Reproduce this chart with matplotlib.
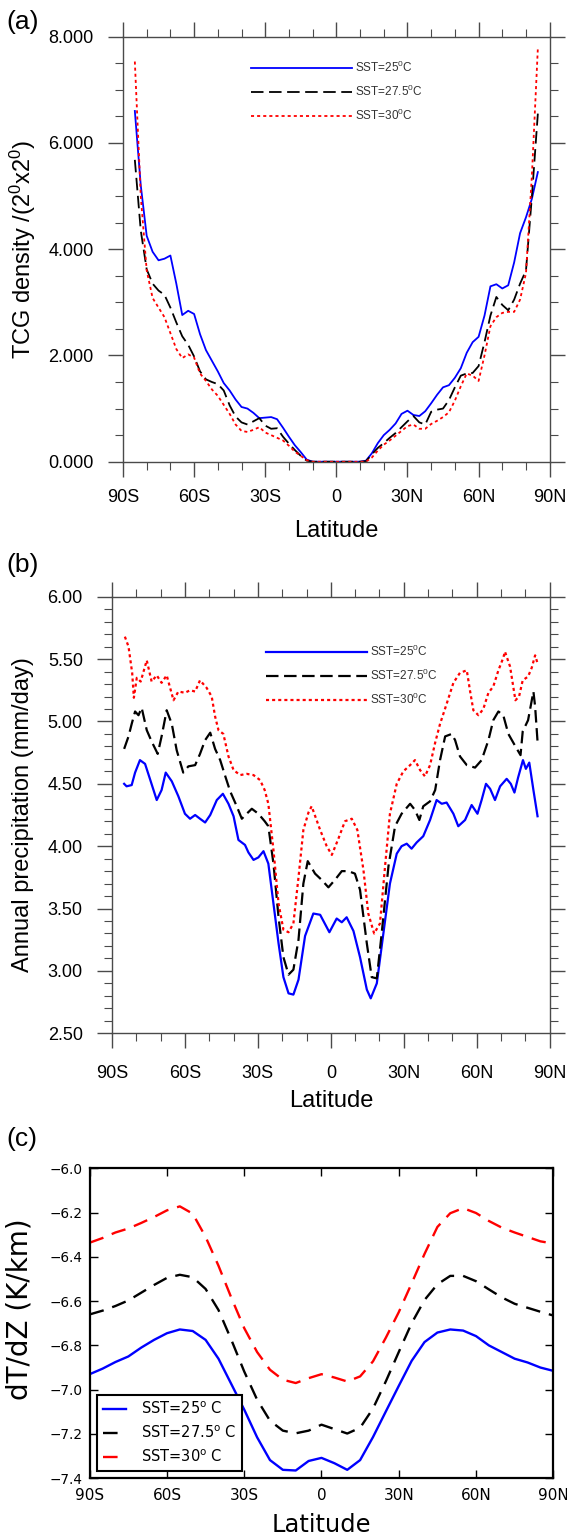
import matplotlib
matplotlib.use('Agg')
import matplotlib.pyplot as plt
from matplotlib.ticker import MultipleLocator, FormatStrFormatter
from matplotlib.font_manager import FontProperties
import numpy as np

plt.rcParams['font.family'] = 'Liberation Sans'
plt.rcParams['mathtext.fontset'] = 'custom'
plt.rcParams['mathtext.rm'] = 'Liberation Sans'
plt.rcParams['mathtext.it'] = 'Liberation Sans:italic'
plt.rcParams['lines.scale_dashes'] = False

lat_ticks = [-90, -60, -30, 0, 30, 60, 90]
lat_labels = ['90S', '60S', '30S', '0', '30N', '60N', '90N']
sst_labels = ['25', '27.5', '30']

# (a) TCG density, 2.5 deg latitude steps from 85S to 85N
lat_a = np.arange(-85, 85.1, 2.5)
tcg_25 = [6.60, 5.20, 4.25, 3.95, 3.79, 3.82, 3.88, 3.35, 2.76, 2.84,
          2.78, 2.40, 2.10, 1.90, 1.70, 1.48, 1.34, 1.17, 1.03, 1.00,
          0.92, 0.82, 0.83, 0.84, 0.80, 0.64, 0.47, 0.31, 0.18, 0.04,
          0.0, 0.0, 0.0, 0.0, 0.0, 0.0, 0.0, 0.0, 0.0,
          0.02, 0.16, 0.35, 0.50, 0.60, 0.72, 0.90, 0.96, 0.88, 0.86,
          0.95, 1.10, 1.26, 1.40, 1.44, 1.58, 1.76, 2.05, 2.25, 2.35,
          2.75, 3.30, 3.34, 3.26, 3.32, 3.75, 4.30, 4.60, 4.95, 5.45]
tcg_275 = [5.68, 4.35, 3.62, 3.35, 3.22, 3.14, 2.90, 2.62, 2.36, 2.20,
           1.98, 1.70, 1.55, 1.50, 1.46, 1.34, 1.06, 0.85, 0.74, 0.70,
           0.76, 0.82, 0.68, 0.62, 0.63, 0.47, 0.34, 0.22, 0.11, 0.02,
           0.0, 0.0, 0.0, 0.0, 0.0, 0.0, 0.0, 0.0, 0.0,
           0.01, 0.14, 0.26, 0.35, 0.45, 0.54, 0.65, 0.76, 0.86, 0.74,
           0.70, 0.94, 0.98, 1.00, 1.16, 1.40, 1.62, 1.66, 1.67, 1.80,
           2.25, 2.75, 3.10, 2.95, 2.85, 3.05, 3.35, 3.60, 5.00, 6.55]
tcg_30 = [7.53, 5.00, 3.60, 3.08, 2.90, 2.72, 2.42, 2.12, 1.95, 2.02,
          1.96, 1.66, 1.52, 1.36, 1.24, 1.07, 0.90, 0.70, 0.58, 0.56,
          0.60, 0.65, 0.55, 0.50, 0.45, 0.40, 0.30, 0.19, 0.11, 0.03,
          0.0, 0.0, 0.0, 0.0, 0.0, 0.0, 0.0, 0.0, 0.0, 0.0,
          0.08, 0.21, 0.32, 0.40, 0.49, 0.58, 0.67, 0.70, 0.62, 0.62,
          0.71, 0.77, 0.84, 0.93, 1.15, 1.42, 1.66, 1.62, 1.52, 2.00,
          2.55, 2.72, 2.80, 2.82, 2.82, 3.05, 3.55, 5.40, 7.78]

# (b) annual precipitation (mm/day)
lat_pr_25 = [-85.0, -84.0, -81.9, -80.5, -78.5, -76.4, -74.4, -71.6, -69.6, -67.9,
             -65.4, -62.7, -60.0, -57.9, -55.8, -53.8, -51.7, -49.6, -46.9, -44.4,
             -42.1, -40.0, -38.0, -35.3, -33.9, -31.8, -29.8, -27.7, -25.7, -23.6,
             -21.5, -19.5, -17.4, -15.4, -13.3, -10.6, -7.2, -4.4, -0.6, 2.4,
             4.5, 6.5, 9.3, 12.0, 14.8, 16.4, 18.9, 21.6, 24.3, 27.1,
             29.1, 31.2, 33.2, 35.3, 38.0, 40.8, 43.5, 45.6, 47.6, 50.4,
             52.4, 55.2, 57.9, 60.3, 62.0, 63.8, 65.5, 67.5, 69.6, 72.3,
             74.0, 75.5, 77.0, 79.0, 80.2, 81.6, 83.3, 85.0]
pr_25 = [4.50, 4.48, 4.49, 4.59, 4.69, 4.66, 4.54, 4.37, 4.45, 4.59,
         4.52, 4.40, 4.26, 4.22, 4.25, 4.22, 4.19, 4.25, 4.37, 4.42,
         4.34, 4.24, 4.05, 4.01, 3.95, 3.89, 3.91, 3.96, 3.86, 3.54,
         3.22, 2.95, 2.82, 2.81, 2.93, 3.28, 3.46, 3.45, 3.31, 3.42,
         3.39, 3.43, 3.32, 3.11, 2.85, 2.78, 2.90, 3.30, 3.70, 3.94,
         4.00, 4.02, 3.98, 4.03, 4.08, 4.21, 4.37, 4.34, 4.35, 4.26,
         4.16, 4.21, 4.33, 4.26, 4.37, 4.50, 4.46, 4.37, 4.48, 4.54,
         4.50, 4.43, 4.55, 4.69, 4.62, 4.67, 4.45, 4.24]
lat_pr_275 = [-85.0, -83.2, -81.9, -80.5, -79.1, -77.8, -75.7, -73.7, -71.2, -69.6,
              -67.5, -65.4, -63.4, -60.7, -58.6, -55.8, -53.8, -51.7, -49.6, -47.6,
              -45.5, -43.4, -41.4, -38.7, -36.6, -34.6, -32.5, -29.8, -27.2, -25.7,
              -23.6, -21.5, -19.5, -17.4, -15.4, -13.3, -11.3, -9.5, -6.5, -3.8,
              -1.0, 1.7, 4.5, 7.2, 9.9, 12.0, 14.8, 16.8, 18.9, 20.9,
              23.7, 26.4, 29.1, 32.6, 34.6, 36.4, 38.0, 40.8, 42.9, 44.9,
              47.0, 49.7, 51.1, 53.1, 55.9, 59.3, 62.0, 64.8, 66.8, 68.9,
              70.9, 73.0, 75.9, 78.0, 78.9, 81.1, 83.3, 84.0, 85.1]
pr_275 = [4.78, 4.88, 4.98, 5.08, 5.05, 5.11, 4.93, 4.84, 4.74, 4.88,
          5.09, 4.98, 4.77, 4.59, 4.64, 4.65, 4.74, 4.85, 4.91, 4.78,
          4.69, 4.56, 4.44, 4.32, 4.22, 4.26, 4.30, 4.26, 4.20, 4.16,
          3.86, 3.43, 3.11, 2.97, 3.01, 3.25, 3.70, 3.88, 3.78, 3.73,
          3.67, 3.73, 3.80, 3.80, 3.78, 3.65, 3.22, 2.95, 2.94, 3.30,
          3.84, 4.16, 4.26, 4.34, 4.29, 4.21, 4.32, 4.36, 4.45, 4.69,
          4.88, 4.90, 4.85, 4.72, 4.65, 4.63, 4.69, 4.85, 5.01, 5.08,
          5.05, 4.90, 4.80, 4.73, 4.92, 5.01, 5.24, 5.12, 4.81]
lat_pr_30 = [-84.7, -83.2, -81.7, -81.0, -79.8, -78.2, -75.7, -73.7, -71.6, -69.6,
             -67.5, -64.7, -62.7, -60.0, -57.9, -55.8, -53.8, -51.1, -49.0, -47.6,
             -46.2, -44.2, -42.1, -40.0, -37.3, -34.6, -31.8, -29.1, -27.2, -25.7,
             -23.6, -21.5, -19.5, -17.4, -15.4, -13.3, -11.3, -9.2, -7.9, -4.4,
             -1.7, 0.4, 3.1, 5.8, 8.6, 10.9, 13.4, 15.4, 17.8, 20.2,
             22.3, 24.3, 27.1, 29.8, 32.6, 34.6, 36.7, 38.7, 40.8, 42.9,
             44.9, 47.6, 50.4, 53.1, 55.9, 57.2, 58.6, 60.7, 62.7, 64.8,
             66.8, 68.9, 70.9, 71.6, 73.7, 75.9, 77.4, 78.9, 81.1, 82.6,
             84.0, 85.1]
pr_30 = [5.68, 5.60, 5.39, 5.19, 5.35, 5.32, 5.49, 5.32, 5.37, 5.31,
         5.37, 5.17, 5.24, 5.23, 5.25, 5.24, 5.33, 5.27, 5.20, 5.04,
         4.93, 4.90, 4.72, 4.61, 4.57, 4.58, 4.57, 4.53, 4.45, 4.34,
         3.97, 3.54, 3.33, 3.31, 3.38, 3.75, 4.13, 4.27, 4.32, 4.13,
         4.00, 3.93, 4.06, 4.20, 4.22, 4.13, 3.81, 3.46, 3.30, 3.38,
         3.84, 4.26, 4.50, 4.60, 4.65, 4.69, 4.61, 4.56, 4.65, 4.83,
         4.98, 5.14, 5.31, 5.39, 5.41, 5.25, 5.09, 5.05, 5.10, 5.23,
         5.28, 5.41, 5.51, 5.56, 5.44, 5.17, 5.20, 5.33, 5.36, 5.43,
         5.53, 5.46]

# (c) lapse rate dT/dZ (K/km), 5 deg latitude steps
lat_c = np.arange(-90, 90.1, 5)
dtdz_25 = [-6.930, -6.905, -6.875, -6.850, -6.810, -6.775, -6.745, -6.728, -6.735, -6.775,
           -6.860, -6.975, -7.090, -7.215, -7.318, -7.362, -7.365, -7.322, -7.308, -7.332,
           -7.362, -7.318, -7.214, -7.098, -6.983, -6.870, -6.785, -6.742, -6.728, -6.733,
           -6.758, -6.800, -6.830, -6.860, -6.877, -6.900, -6.915]
dtdz_275 = [-6.660, -6.643, -6.622, -6.597, -6.562, -6.527, -6.495, -6.481, -6.492, -6.545,
            -6.640, -6.775, -6.918, -7.045, -7.140, -7.185, -7.197, -7.185, -7.158, -7.178,
            -7.198, -7.172, -7.085, -6.962, -6.830, -6.700, -6.595, -6.524, -6.486, -6.486,
            -6.510, -6.547, -6.583, -6.612, -6.630, -6.648, -6.665]
dtdz_30 = [-6.336, -6.315, -6.290, -6.272, -6.247, -6.220, -6.190, -6.172, -6.205, -6.310,
           -6.440, -6.585, -6.722, -6.830, -6.910, -6.955, -6.970, -6.948, -6.930, -6.945,
           -6.963, -6.940, -6.872, -6.765, -6.650, -6.520, -6.387, -6.265, -6.203, -6.180,
           -6.202, -6.238, -6.268, -6.290, -6.310, -6.330, -6.340]

frame_col = '#4a4a4a'
ncl_styles = [dict(color='#0000ff', ls='-'),
              dict(color='black', dashes=(9, 4)),
              dict(color='#ff0000', dashes=(2.2, 2.2))]


def ncl_axes(ax, ylim, ymajor, yminor, fmt):
    ax.set_xlim(-90, 90)
    ax.set_ylim(*ylim)
    ax.set_xticks(lat_ticks, lat_labels)
    ax.xaxis.set_minor_locator(MultipleLocator(10))
    ax.yaxis.set_major_locator(MultipleLocator(ymajor))
    ax.yaxis.set_minor_locator(MultipleLocator(yminor))
    ax.yaxis.set_major_formatter(FormatStrFormatter(fmt))
    ax.tick_params(which='both', direction='out', top=True, right=True,
                   color=frame_col, labelsize=13)
    ax.tick_params(which='major', length=11, width=1.0)
    ax.tick_params(which='minor', length=6, width=0.8)
    ax.tick_params(axis='y', pad=10)
    ax.tick_params(axis='x', pad=9)
    for s in ax.spines.values():
        s.set_color(frame_col)
        s.set_linewidth(1.0)
    ax.set_xlabel('Latitude', fontsize=17)


def ncl_legend(ax, lines, x0, y0, spacing):
    labels = [f'SST={s}$^\\mathrm{{0}}$C' for s in sst_labels]
    leg = ax.legend(lines, labels, loc='upper left', bbox_to_anchor=(x0, y0),
                    frameon=False, fontsize=8.5, handlelength=8.6,
                    handletextpad=0.25, borderpad=0, borderaxespad=0,
                    labelspacing=spacing)
    for t in leg.get_texts():
        t.set_color('#333333')


fig = plt.figure(figsize=(5.67, 15.36), dpi=100)

# (a)
ax_a = fig.add_axes([0.2169, 0.6994, 0.7526, 0.2768])
lines_a = []
for vals, st in zip([tcg_25, tcg_275, tcg_30], ncl_styles):
    ln, = ax_a.plot(lat_a, vals, lw=1.3, **st)
    lines_a.append(ln)
ncl_axes(ax_a, (0, 8), 2, 0.5, '%.3f')
ax_a.set_ylabel('TCG density /(2$^\\mathrm{0}$x2$^\\mathrm{0}$)', fontsize=17)
ax_a.yaxis.set_label_coords(-0.199, 0.5)
ax_a.xaxis.set_label_coords(0.5, -0.137)
ncl_legend(ax_a, lines_a, 0.299, 0.945, 0.75)

# (b)
ax_b = fig.add_axes([0.1975, 0.3273, 0.772, 0.2842])
lines_b = []
for la, vals, st in zip([lat_pr_25, lat_pr_275, lat_pr_30],
                        [pr_25, pr_275, pr_30], ncl_styles):
    ln, = ax_b.plot(la, vals, lw=1.6, **st)
    lines_b.append(ln)
ncl_axes(ax_b, (2.5, 6.0), 0.5, 0.1, '%.2f')
ax_b.tick_params(axis='x', pad=12)
ax_b.set_ylabel('Annual precipitation (mm/day)', fontsize=17)
ax_b.yaxis.set_label_coords(-0.178, 0.5)
ax_b.xaxis.set_label_coords(0.5, -0.13)
ncl_legend(ax_b, lines_b, 0.351, 0.893, 0.75)

# (c)
ax_c = fig.add_axes([0.1582, 0.0376, 0.8176, 0.2018])
c_styles = [dict(color='#0000ff', ls='-'),
            dict(color='black', dashes=(10.5, 6.5)),
            dict(color='#ff0000', dashes=(10.5, 6.5))]
c_labels = [f'SST={s}$^\\mathrm{{o}}$ C' for s in sst_labels]
for vals, st, lab in zip([dtdz_25, dtdz_275, dtdz_30], c_styles, c_labels):
    ax_c.plot(lat_c, vals, lw=1.7, label=lab, **st)
ax_c.set_xlim(-90, 90)
ax_c.set_ylim(-7.4, -6.0)
yt = np.round(np.arange(-7.4, -5.99, 0.2), 1)
ax_c.set_yticks(yt, [f'{v:.1f}'.replace('-', '\u2212') for v in yt],
                family='DejaVu Sans', fontsize=9.8)
ax_c.set_xticks(lat_ticks, lat_labels, family='DejaVu Sans', fontsize=11)
ax_c.tick_params(direction='in', top=True, right=True, length=6, width=1,
                 color='black')
ax_c.tick_params(axis='y', pad=5)
ax_c.tick_params(axis='x', pad=7)
for s in ax_c.spines.values():
    s.set_linewidth(1.6)
ax_c.set_xlabel('Latitude', family='DejaVu Sans', fontsize=17.4)
ax_c.set_ylabel('dT/dZ (K/km)', family='DejaVu Sans', fontsize=20)
ax_c.xaxis.set_label_coords(0.5, -0.112)
ax_c.yaxis.set_label_coords(-0.122, 0.545)
leg_c = ax_c.legend(loc='lower left', fancybox=False, framealpha=1,
                    edgecolor='black', handlelength=1.6, handletextpad=1.0,
                    prop=FontProperties(family='DejaVu Sans', size=10.5,
                                        math_fontfamily='dejavusans'))
leg_c.get_frame().set_linewidth(1.5)

# panel letters
for y, letter in [(0.9857, '(a)'), (0.632, '(b)'), (0.2585, '(c)')]:
    fig.text(0.012, y, letter, fontsize=19, va='center', ha='left')

fig.savefig('out.png', dpi=100)
